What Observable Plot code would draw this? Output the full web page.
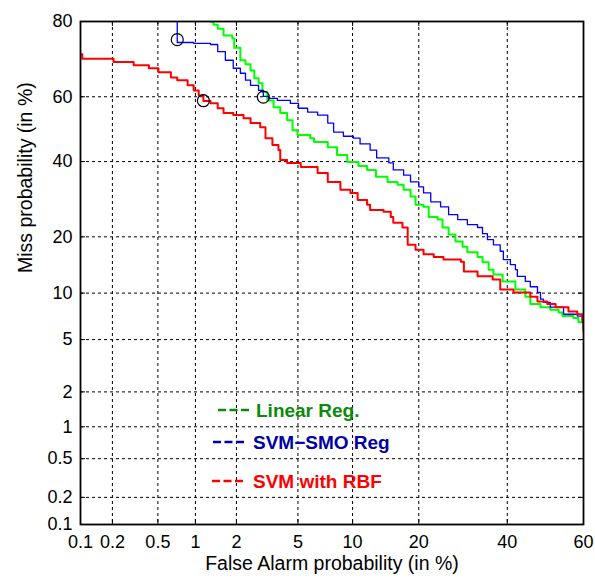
<!DOCTYPE html>
<html>
<head>
<meta charset="utf-8">
<script src="https://cdn.jsdelivr.net/npm/d3@7"></script>
<script src="https://cdn.jsdelivr.net/npm/@observablehq/plot@0.6"></script>
<style>
  html, body { margin: 0; padding: 0; background: white; }
  #chart { width: 595px; height: 581px; }
</style>
</head>
<body>
<div id="chart"></div>
<script>
// ---- Data (values in %) ----
const xTicks = [0.1, 0.2, 0.5, 1, 2, 5, 10, 20, 40, 60];
const yTicks = [0.1, 0.2, 0.5, 1, 2, 5, 10, 20, 40, 60, 80];

const seriesNames = ["Linear Reg.", "SVM\u2212SMO Reg", "SVM with RBF"];

const greenFA = [1.30, 1.37, 1.47, 1.62, 1.87, 1.93, 2.13, 2.31, 2.5, 2.65, 2.83, 3.0, 3.23, 3.54, 3.9, 4.3, 4.64, 4.97, 5.9, 6.2, 7.4, 8.3, 9.4, 10.7, 11.8, 13.0, 14.7, 16.3, 17.3, 18.5, 19.4, 20.9, 21.9, 23.7, 24.7, 26.0, 27.5, 29.1, 30.2, 32.6, 33.8, 35.3, 36.5, 38.8, 42.1, 44.7, 46.0, 48.7, 51.3, 53.5, 54.5, 57.4, 58.7, 60];
const greenMiss = [80, 79.3, 78.4, 76.8, 76.1, 73.8, 70.5, 69.4, 67.7, 65.5, 64.0, 61.4, 58.9, 56.8, 55.0, 52.8, 49.7, 48.2, 47.2, 46.0, 44.4, 42.0, 39.9, 38.7, 37.5, 35.5, 34.0, 33.2, 31.8, 29.9, 27.7, 27.2, 24.6, 24.0, 22.1, 20.5, 19.0, 17.9, 16.8, 15.9, 14.9, 13.6, 12.8, 11.7, 10.5, 9.5, 8.6, 8.2, 7.9, 7.6, 7.2, 7.0, 6.55, 5.9];

const blueFA = [0.72, 0.72, 0.97, 1.30, 1.47, 1.67, 1.9, 2.13, 2.31, 2.5, 2.83, 3.04, 3.29, 3.74, 4.5, 5.04, 5.7, 6.5, 7.4, 7.96, 8.97, 10.1, 10.9, 12.2, 13.1, 14.9, 15.6, 17.3, 18.5, 20.0, 20.9, 22.3, 24.3, 26.0, 28.0, 30.2, 32.6, 33.8, 35.0, 36.5, 38.2, 39.0, 40.8, 42.1, 42.6, 44.7, 46.0, 47.9, 48.7, 49.5, 51.3, 54.8, 58.4, 59.7, 60];
const blueMiss = [80, 75.1, 74.9, 74.6, 72.8, 70.5, 68.3, 66.9, 64.9, 63.4, 61.9, 60.1, 59.5, 58.9, 58.0, 56.5, 55.3, 54.4, 51.9, 49.1, 47.8, 47.2, 45.4, 43.5, 41.1, 39.6, 37.5, 36.0, 34.0, 32.6, 30.9, 28.5, 27.2, 25.2, 24.0, 22.8, 22.1, 20.7, 19.4, 18.3, 17.0, 15.4, 14.5, 13.6, 12.5, 11.7, 10.9, 10.1, 9.2, 8.8, 8.2, 7.4, 7.2, 6.55, 5.9];

const redFA = [0.1, 0.104, 0.205, 0.31, 0.42, 0.505, 0.64, 0.72, 0.87, 0.97, 1.06, 1.15, 1.30, 1.47, 1.62, 1.9, 2.24, 2.5, 2.9, 3.14, 3.48, 3.8, 3.9, 4.3, 5.2, 6.5, 7.4, 8.65, 9.75, 10.6, 11.8, 12.2, 14.1, 15.2, 15.6, 17.1, 18.0, 19.4, 20.9, 22.9, 24.9, 28.7, 29.4, 32.6, 36.3, 38.2, 41.6, 46.0, 47.9, 50.5, 52.7, 56.1, 58.4, 59.7, 60];
const redMiss = [72.1, 70.9, 70.0, 69.1, 68.3, 67.2, 65.7, 64.9, 63.4, 61.9, 60.4, 58.7, 58.0, 56.5, 55.0, 54.4, 53.4, 51.9, 50.6, 47.2, 45.1, 43.5, 40.5, 39.6, 38.4, 36.6, 34.0, 31.8, 30.9, 29.0, 27.7, 26.4, 25.9, 24.6, 23.2, 22.1, 18.3, 17.3, 16.4, 15.9, 15.4, 15.0, 13.3, 12.5, 12.0, 10.5, 10.1, 9.5, 8.9, 8.6, 8.2, 7.7, 7.4, 6.8, 5.7];

// operating-point markers (circles)
const markFA = [0.72, 1.15, 3.04];
const markMiss = [75.8, 58.8, 59.9];

// ---- Normal deviate (probit) for the DET axes ----
function probit(p) {
  const a = [-3.969683028665376e+01, 2.209460984245205e+02, -2.759285104469687e+02, 1.383577518672690e+02, -3.066479806614716e+01, 2.506628277459239e+00];
  const b = [-5.447609879822406e+01, 1.615858368580409e+02, -1.556989798598866e+02, 6.680131188771720e+01, -1.328068155288572e+01];
  const c = [-7.784894002430293e-03, -3.223964580411365e-01, -2.400758277161838e+00, -2.549732539343734e+00, 4.374664141464968e+00, 2.938163982698783e+00];
  const d = [7.784695709041462e-03, 3.224671290700398e-01, 2.445134137142996e+00, 3.754408661907416e+00];
  const pl = 0.02425, ph = 1 - pl;
  if (p < pl) {
    const q = Math.sqrt(-2 * Math.log(p));
    return (((((c[0]*q+c[1])*q+c[2])*q+c[3])*q+c[4])*q+c[5]) / ((((d[0]*q+d[1])*q+d[2])*q+d[3])*q+1);
  }
  if (p <= ph) {
    const q = p - 0.5, r = q * q;
    return (((((a[0]*r+a[1])*r+a[2])*r+a[3])*r+a[4])*r+a[5])*q / (((((b[0]*r+b[1])*r+b[2])*r+b[3])*r+b[4])*r+1);
  }
  const q = Math.sqrt(-2 * Math.log(1 - p));
  return -(((((c[0]*q+c[1])*q+c[2])*q+c[3])*q+c[4])*q+c[5]) / ((((d[0]*q+d[1])*q+d[2])*q+d[3])*q+1);
}
const P = v => probit(v / 100);

const rows = (fa, miss) => fa.map((f, i) => ({fa: f, miss: miss[i]}));
const green = rows(greenFA, greenMiss);
const blue = rows(blueFA, blueMiss);
const red = rows(redFA, redMiss);
const marks = rows(markFA, markMiss);

const xz = xTicks.map(P);
const yz = yTicks.map(P);
const xLab = new Map(xz.map((z, i) => [z, String(xTicks[i])]));
const yLab = new Map(yz.map((z, i) => [z, String(yTicks[i])]));

const FONT = "'Liberation Sans', Arial, Helvetica, sans-serif";
const gridStyle = {stroke: "black", strokeOpacity: 1, strokeWidth: 1, strokeDasharray: "3,3"};

const svg = Plot.plot({
  width: 595,
  height: 581,
  marginLeft: 80,
  marginRight: 12,
  marginTop: 21,
  marginBottom: 57,
  style: {fontFamily: FONT, fontSize: "18px", color: "black", background: "white", overflow: "visible"},
  x: {domain: [P(0.1), P(60)]},
  y: {domain: [P(0.1), P(80)]},
  marks: [
    Plot.gridX(xz, gridStyle),
    Plot.gridY(yz, gridStyle),
    Plot.tickX(xz, {x: d => d, insetTop: 498, stroke: "black", strokeWidth: 1}),
    Plot.tickX(xz, {x: d => d, insetBottom: 498, stroke: "black", strokeWidth: 1}),
    Plot.tickY(yz, {y: d => d, insetRight: 498, stroke: "black", strokeWidth: 1}),
    Plot.tickY(yz, {y: d => d, insetLeft: 498, stroke: "black", strokeWidth: 1}),
    Plot.axisX(xz, {tickSize: 0, tickPadding: 11, tickFormat: z => xLab.get(z), fontSize: 18, label: null}),
    Plot.axisY(yz, {tickSize: 0, tickPadding: 8, tickFormat: z => yLab.get(z), fontSize: 18, label: null}),
    Plot.line(green, {x: d => P(d.fa), y: d => P(d.miss), curve: "step-after", stroke: "#00ff00", strokeWidth: 2, clip: true}),
    Plot.line(blue, {x: d => P(d.fa), y: d => P(d.miss), curve: "step-after", stroke: "#0000ff", strokeWidth: 1.3, clip: true}),
    Plot.line(red, {x: d => P(d.fa), y: d => P(d.miss), curve: "step-after", stroke: "#ff0000", strokeWidth: 2, clip: true}),
    Plot.dot(marks, {x: d => P(d.fa), y: d => P(d.miss), r: 6, stroke: "black", fill: "none", strokeWidth: 1.2}),
    Plot.frame({stroke: "black", strokeWidth: 1.8}),
    Plot.text(["False Alarm probability (in %)"], {text: d => d, frameAnchor: "bottom", dy: 45, fontSize: 19.5}),
    Plot.text(["Miss probability (in %)"], {text: d => d, frameAnchor: "left", rotate: -90, dx: -55, fontSize: 19.5})
  ]
});

// ---- Legend (inside the plot area) ----
const legendColors = ["#0b8a0b", "#0000a8", "#ff0000"];
const legendLayout = [
  {x1: 218, x2: 249, tx: 256, y: 410},
  {x1: 213, x2: 245, tx: 253, y: 442},
  {x1: 212, x2: 245, tx: 253, y: 481}
];
const lg = d3.select(svg).append("g")
  .style("font-family", FONT)
  .style("font-weight", "bold")
  .style("font-size", "19px")
  .style("text-anchor", "start");
seriesNames.forEach((name, i) => {
  const L = legendLayout[i];
  lg.append("line")
    .attr("x1", L.x1).attr("x2", L.x2).attr("y1", L.y).attr("y2", L.y)
    .attr("stroke", legendColors[i]).attr("stroke-width", 2.5)
    .attr("stroke-dasharray", "8,3.5");
  lg.append("text")
    .attr("x", L.tx).attr("y", L.y).attr("dy", "0.36em")
    .style("text-anchor", "start")
    .attr("fill", legendColors[i])
    .text(name);
});

document.getElementById("chart").appendChild(svg);
</script>
</body>
</html>
